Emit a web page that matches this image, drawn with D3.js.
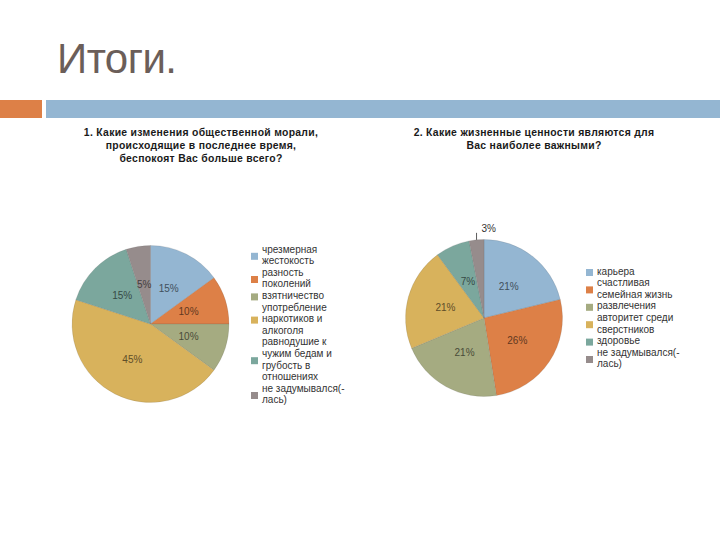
<!DOCTYPE html>
<html>
<head>
<meta charset="utf-8">
<script src="https://cdn.jsdelivr.net/npm/d3@7"></script>
<style>
  body { margin: 0; background: #fff; }
  svg { display: block; font-family: "Liberation Sans", Arial, sans-serif; }
</style>
</head>
<body>
<svg id="slide" width="720" height="540"></svg>
<script>
// slide title
const slideTitle = "Итоги.";

// chart 1
const title1 = ["1. Какие изменения общественной морали,", "происходящие в последнее время,", "беспокоят Вас больше всего?"];
const cats1 = ["чрезмерная\nжестокость", "разность\nпоколений", "взятничество", "употребление\nнаркотиков и\nалкоголя", "равнодушие к\nчужим бедам и\nгрубость в\nотношениях", "не задумывался(-\nлась)"];
const vals1 = [15, 10, 10, 45, 15, 5];

// chart 2
const title2 = ["2. Какие жизненные ценности являются для", "Вас наиболее важными?"];
const cats2 = ["карьера", "счастливая\nсемейная жизнь", "развлечения", "авторитет среди\nсверстников", "здоровье", "не задумывался(-\nлась)"];
const vals2 = [21, 26, 21, 21, 7, 3];

const colors = ["#94b6d2", "#dd8047", "#a5ab81", "#d8b25c", "#7ba79d", "#968c8c"];

const svg = d3.select("#slide");
svg.append("rect").attr("width", 720).attr("height", 540).attr("fill", "#fff");

// header
svg.append("text")
  .attr("x", 57).attr("y", 73)
  .attr("font-size", 42)
  .attr("fill", "#6b5e59")
  .attr("textLength", 120)
  .text(slideTitle);

svg.append("rect").attr("x", 0).attr("y", 100).attr("width", 42).attr("height", 18).attr("fill", "#dd8047");
svg.append("rect").attr("x", 46).attr("y", 100).attr("width", 674).attr("height", 18).attr("fill", "#94b6d2");

function drawPie(opts) {
  const g = svg.append("g");

  // chart title
  g.selectAll(".ttl").data(opts.title).enter().append("text")
    .attr("x", opts.titleX)
    .attr("y", (d, i) => 135.5 + i * 13.3)
    .attr("text-anchor", "middle")
    .attr("font-size", 10.4)
    .attr("font-weight", "bold")
    .attr("fill", "#1a1a1a")
    .attr("letter-spacing", 0.3)
    .text(d => d);

  const r = 78.5;
  const pie = d3.pie().sort(null).value(d => d);
  const arcs = pie(opts.values);
  const arc = d3.arc().innerRadius(0).outerRadius(r);
  const labelArc = d3.arc().innerRadius(r * 0.51).outerRadius(r * 0.51);

  const pg = g.append("g").attr("transform", `translate(${opts.cx},${opts.cy})`);
  pg.selectAll("path").data(arcs).enter().append("path")
    .attr("d", arc)
    .attr("fill", (d, i) => colors[i])
    .attr("stroke", "rgba(90,90,90,0.25)")
    .attr("stroke-width", 0.6);

  arcs.forEach((d, i) => {
    const txt = d.data + "%";
    if (opts.outside && opts.outside.includes(i)) {
      const a = (d.startAngle + d.endAngle) / 2;
      const px = Math.sin(a) * r, py = -Math.cos(a) * r;
      pg.append("line")
        .attr("x1", px).attr("y1", py)
        .attr("x2", px).attr("y2", py - 7)
        .attr("stroke", "#333").attr("stroke-width", 0.8);
      pg.append("text")
        .attr("x", px + 5).attr("y", py - 8)
        .attr("font-size", 10)
        .attr("fill", "#333")
        .text(txt);
    } else {
      const [x, y] = labelArc.centroid(d);
      pg.append("text")
        .attr("x", x).attr("y", y)
        .attr("dy", "0.35em")
        .attr("text-anchor", "middle")
        .attr("font-size", 10)
        .attr("fill", d3.color(colors[i]).darker(2.3))
        .text(txt);
    }
  });

  // legend, Excel style: box centred on its wrapped text block
  const lh = 11.6;
  let line = 0;
  opts.cats.forEach((c, i) => {
    const lines = c.split("\n");
    const top = opts.legY + line * lh;
    lines.forEach((t, j) => {
      g.append("text")
        .attr("x", opts.legX + 11)
        .attr("y", top + j * lh)
        .attr("dy", "0.35em")
        .attr("font-size", 10)
        .attr("fill", "#333")
        .text(t);
    });
    const mid = top + (lines.length - 1) * lh / 2 + 1.5;
    g.append("rect")
      .attr("x", opts.legX).attr("y", mid - 3.5)
      .attr("width", 7).attr("height", 7)
      .attr("fill", colors[i]);
    line += lines.length;
  });
}

drawPie({ title: title1, titleX: 201, values: vals1, cats: cats1, cx: 150.5, cy: 324, legX: 251, legY: 249 });
drawPie({ title: title2, titleX: 534, values: vals2, cats: cats2, cx: 484, cy: 318, legX: 586, legY: 271, outside: [5] });
</script>
</body>
</html>
